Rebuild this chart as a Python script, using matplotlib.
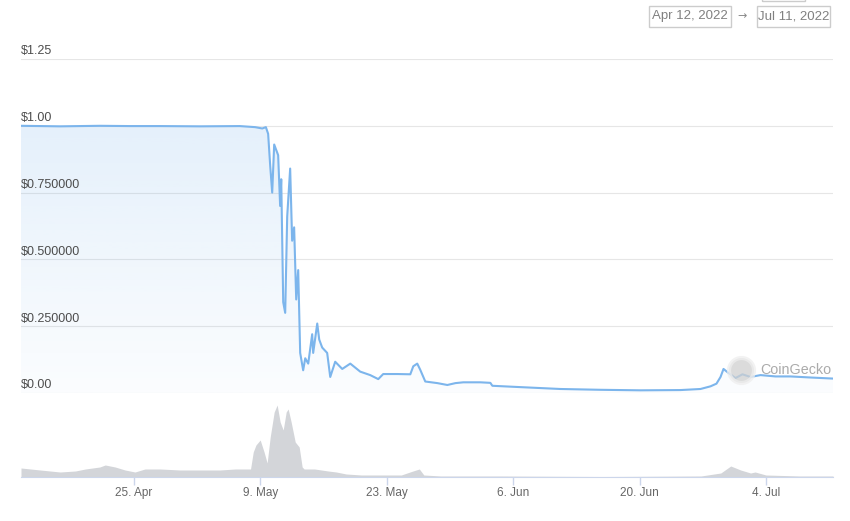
import matplotlib
matplotlib.use("Agg")
import matplotlib.pyplot as plt
import matplotlib.dates as mdates
from matplotlib.patches import Rectangle
import numpy as np
import pandas as pd

plt.rcParams["font.family"] = ["Liberation Sans", "DejaVu Sans"]

# price (USD) -- day offset from 12 Apr 2022 00:00
price_days = [0.47, 4.8, 9.2, 12.5, 15.9, 20.3, 24.7, 26.4, 27.2, 27.6, 27.85, 28.08,
              28.3, 28.52, 28.74, 28.96, 29.18, 29.3, 29.52, 29.74, 29.96, 30.29, 30.51,
              30.73, 30.96, 31.18, 31.4, 31.73, 31.96, 32.29, 32.73, 32.84, 33.29, 33.51,
              33.84, 34.39, 34.73, 35.28, 36.06, 36.95, 38.05, 39.16, 40.05, 40.6, 42.16,
              43.6, 43.93, 44.37, 44.7, 45.26, 46.6, 47.7, 48.6, 49.47, 51.36, 52.47, 52.69,
              55.79, 60.23, 64.66, 69.1, 73.53, 75.75, 76.86, 77.52, 77.97, 78.3, 78.85,
              79.63, 80.4, 81.29, 82.4, 84.06, 85.73, 87.94, 90.43]
price_usd = [1.0, 0.998, 1.0, 0.999, 0.999, 0.998, 0.999, 0.995, 0.99, 0.995, 0.97, 0.85,
             0.75, 0.93, 0.91, 0.89, 0.70, 0.80, 0.34, 0.30, 0.66, 0.84, 0.57,
             0.62, 0.35, 0.46, 0.15, 0.085, 0.13, 0.11, 0.22, 0.15, 0.26, 0.20,
             0.17, 0.15, 0.06, 0.117, 0.09, 0.11, 0.08, 0.067, 0.052, 0.071, 0.071,
             0.07, 0.10, 0.11, 0.087, 0.043, 0.037, 0.03, 0.037, 0.04, 0.04, 0.038, 0.027,
             0.022, 0.015, 0.012, 0.010, 0.011, 0.015, 0.025, 0.035, 0.06, 0.09, 0.075,
             0.056, 0.07, 0.06, 0.067, 0.062, 0.062, 0.058, 0.054]

# traded volume (relative units)
vol_days = [0.47, 2.6, 4.8, 6.5, 7.6, 9.2, 9.8, 10.9, 12.0, 13.1, 14.2, 15.9, 18.1, 20.3,
            22.5, 24.2, 25.9, 26.2, 26.5, 26.97, 27.4, 27.74, 28.08, 28.52, 28.85, 29.18,
            29.52, 29.85, 30.07, 30.4, 30.85, 31.29, 31.62, 31.84, 33.0, 34.5, 35.4,
            36.5, 38.2, 40.4, 42.6, 43.9, 44.6, 45.1, 47.0, 53.7, 64.8, 75.8, 78.0,
            79.1, 80.2, 81.3, 81.8, 83.0, 86.8, 90.43]
vol_rel = [9, 7, 5, 6, 8, 10, 12, 10, 7, 5, 8, 8, 7, 7,
           7, 8, 8, 25, 32, 37, 25, 14, 40, 65, 72, 55,
           47, 65, 68, 55, 35, 30, 10, 8, 8, 6, 5,
           3, 2, 2, 2, 6, 8, 2, 1, 1, 0.5, 1, 4,
           11, 7, 4, 5, 2, 1, 1]

price_ticks = [0, 0.25, 0.5, 0.75, 1.0, 1.25]
price_labels = ["$0.00", "$0.250000", "$0.500000", "$0.750000", "$1.00", "$1.25"]
date_ticks = ["2022-04-25", "2022-05-09", "2022-05-23", "2022-06-06", "2022-06-20", "2022-07-04"]
date_labels = ["25. Apr", "9. May", "23. May", "6. Jun", "20. Jun", "4. Jul"]

start = pd.Timestamp("2022-04-12")
px = start + pd.to_timedelta(price_days, unit="D")
vx = start + pd.to_timedelta(vol_days, unit="D")
xmin = start + pd.Timedelta(days=0.47)
xmax = start + pd.Timedelta(days=90.43)

line_col = "#7cb5ec"
grid_col = "#e6e6e6"
txt_col = "#666666"

fig = plt.figure(figsize=(8.5, 5.21), dpi=100)
ax = fig.add_axes([21/850, 1 - 393/521, 812/850, 334/521])
axv = fig.add_axes([21/850, 1 - 477/521, 812/850, 76/521])

# price panel
for t, lab in zip(price_ticks, price_labels):
    ax.axhline(t, color=grid_col, lw=0.8, zorder=0)
    ax.text(0, t + 0.006, lab, transform=ax.get_yaxis_transform(), ha="left",
            va="bottom", fontsize=9, color="#4d4d4d")

pxn = mdates.date2num(px)
fill = ax.fill_between(pxn, price_usd, 0, color="none", lw=0)
grad = np.zeros((256, 1, 4))
grad[:, 0, :3] = matplotlib.colors.to_rgb(line_col)
grad[:, 0, 3] = np.linspace(0.2, 0.03, 256)
im = ax.imshow(grad, aspect="auto", extent=[pxn[0], pxn[-1], 0, 1.0], origin="upper",
               zorder=1)
im.set_clip_path(fill.get_paths()[0], transform=ax.transData)
ax.plot(px, price_usd, color=line_col, lw=1.5, zorder=3)

ax.set_xlim(xmin, xmax)
ax.set_ylim(0, 1.25)
ax.axis("off")

# watermark
fig.lines.append(plt.Line2D([741/850], [1 - 370/521], transform=fig.transFigure,
                            marker="o", markersize=18, markerfacecolor="#d0d0d0",
                            markeredgecolor="#eeeeee", markeredgewidth=3, alpha=0.75,
                            zorder=5))
fig.text(760/850, 1 - 370/521, "CoinGecko", fontsize=10.3, color="#ababab",
         va="center", ha="left", zorder=5)

# volume panel
axv.fill_between(vx, vol_rel, 0, color="#d3d5d9", lw=0)
axv.set_xlim(xmin, xmax)
axv.set_ylim(0, 76)
for s in ["top", "right", "left"]:
    axv.spines[s].set_visible(False)
axv.spines["bottom"].set_color("#ccd6eb")
axv.set_yticks([])
axv.set_xticks(pd.to_datetime(date_ticks))
axv.set_xticklabels(date_labels)
axv.tick_params(axis="x", colors="#ccd6eb", labelcolor=txt_col, labelsize=8.5,
                length=5.5, width=1, pad=2)

# date range selector
fig.text(690/850, 1 - 16.5/521, "Apr 12, 2022", ha="center", va="center", fontsize=9.5,
         color="#808080")
fig.text(742/850, 1 - 16.5/521, "\u2192", ha="center", va="center", fontsize=8,
         color="#888888", family="DejaVu Sans")
fig.text(793.5/850, 1 - 16.5/521, "Jul 11, 2022", ha="center", va="center", fontsize=9.5,
         color="#808080")
for x0, y0, w, h in [(649, 6, 82, 21), (757, 6, 73, 21), (762, -5, 43, 6)]:
    fig.patches.append(Rectangle((x0/850, 1 - (y0 + h)/521), w/850, h/521,
                                 transform=fig.transFigure, fill=False,
                                 edgecolor="#cccccc", lw=1))

fig.savefig("out.png", dpi=100)
